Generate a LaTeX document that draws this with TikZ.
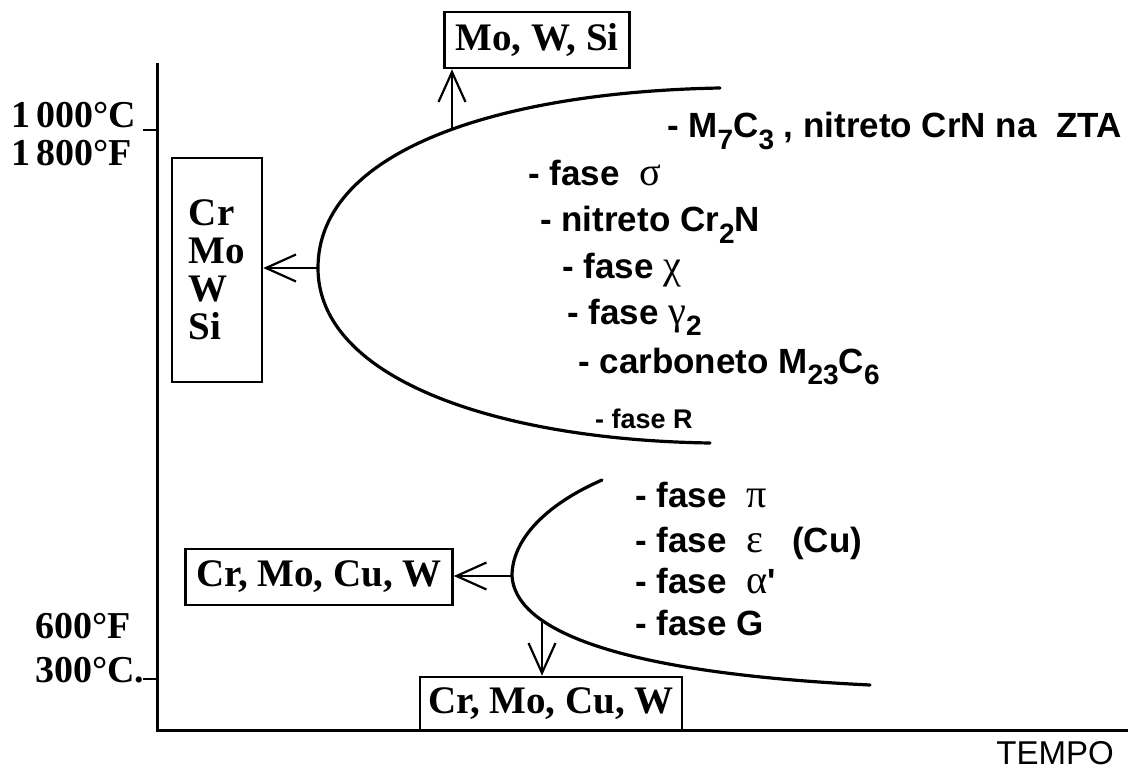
\documentclass[tikz,border=0pt]{standalone}
\usepackage{fontspec}
\usepackage{graphicx}
\setmainfont{Liberation Serif}
\setsansfont{Liberation Sans}
\newfontfamily\grk{Liberation Serif}
\usetikzlibrary{arrows.meta}
% lowered index used in the phase formulas
\newcommand\lowidx[1]{\raisebox{-0.33em}{\scalebox{0.8}{#1}}}
% Greek phase letter, slightly enlarged serif
\newcommand\gl[1]{{\grk\mdseries\scalebox{1.15}{#1}}}

\tikzset{
  axisline/.style={line width=3pt},
  tickline/.style={line width=2pt},
  curveline/.style={line width=3.2pt, line cap=round},
  flow/.style={line width=2.2pt, -{Straight Barb[length=30pt,width=27pt,line width=2.2pt]}},
  elembox/.style={draw, line width=2.6pt, inner sep=0pt,
    font=\fontsize{39}{38}\selectfont\bfseries},
  templabel/.style={font=\fontsize{38}{38}\selectfont\bfseries, inner sep=0pt},
  phase/.style={font=\fontsize{35}{35}\selectfont\sffamily\bfseries, inner sep=0pt, anchor=base west},
  smallphase/.style={phase, font=\fontsize{27}{27}\selectfont\sffamily\bfseries},
}

\begin{document}
\begin{tikzpicture}[x=1pt,y=-1pt]
\useasboundingbox (0,0) rectangle (1133,770);
\fill[white] (0,0) rectangle (1133,770);

% axes
\coordinate (ytop) at (157,63);
\coordinate (orig) at (157,730);
\coordinate (xend) at (1128,730);
\draw[axisline] (ytop) -- (orig) -- (xend);

% temperature ticks and labels
\coordinate (thi) at (157,130);
\coordinate (thiL) at (143,130);
\coordinate (tlo) at (157,679);
\coordinate (tloL) at (143,679);
\draw[tickline] (thiL) -- (thi);
\draw[tickline] (tloL) -- (tlo);
\node[templabel, anchor=base west] (c1000) at (11,128) {1\,000°C};
\node[templabel, anchor=base west] (f1800) at (11,166) {1\,800°F};
\node[templabel, anchor=base west] (f600) at (35,638) {600°F};
\node[templabel, anchor=base west] (c300) at (35,682) {300°C.};

\node[font=\fontsize{33}{33}\selectfont\sffamily, inner sep=0pt] (tempo) at (1055,753) {TEMPO};

% upper precipitation curve
\coordinate (uTop) at (720,88);
\coordinate (uTip) at (318,268);
\coordinate (uBot) at (710,443);
\coordinate (uUp) at (452,128);
\draw[curveline] (uTop) .. controls (500,92) and (318,150) .. (uTip)
                        .. controls (318,380) and (500,440) .. (uBot);

% lower precipitation curve
\coordinate (lTop) at (602,480);
\coordinate (lTip) at (512,576);
\coordinate (lEnd) at (870,685);
\coordinate (lDown) at (542,622);
\draw[curveline] (lTop) .. controls (545,505) and (512,540) .. (lTip)
                        .. controls (515,625) and (600,672) .. (lEnd);

% element boxes
\node[elembox, minimum width=90pt, minimum height=224pt, align=left] (bCr) at (217,270)
  {Cr\\Mo\\W\\Si};
\node[elembox, minimum width=185pt, minimum height=56pt] (bMo) at (537,40) {Mo, W, Si};
\node[elembox, minimum width=267pt, minimum height=56pt] (bLeft) at (319,577) {Cr, Mo, Cu, W};
\node[elembox, minimum width=262pt, minimum height=53pt] (bLow) at (551,703.5) {Cr, Mo, Cu, W};

% arrows from the curves to the boxes
\draw[flow] (uTip) -- (uTip -| bCr.east);
\draw[flow] (uUp) -- (uUp |- bMo.south);
\draw[flow] (lTip) -- (lTip -| bLeft.east);
\draw[flow] (lDown) -- (lDown |- bLow.north);

% phases of the upper curve
\node[phase] (p1) at (667,138) {- M\lowidx{7}C\lowidx{3} , nitreto CrN na\ \ ZTA};
\node[phase] (p2) at (528,186) {- fase\ \ \gl{σ}};
\node[phase] (p3) at (540,232) {- nitreto Cr\lowidx{2}N};
\node[phase] (p4) at (562,279) {- fase \gl{χ}};
\node[phase] (p5) at (567,324) {- fase \gl{γ}\lowidx{2}};
\node[phase] (p6) at (578,373) {- carboneto M\lowidx{23}C\lowidx{6}};
\node[smallphase] (p7) at (595,428) {- fase R};

% phases of the lower curve
\node[phase] (q1) at (635,507) {- fase\ \ \gl{π}};
\node[phase] (q2) at (635,552) {- fase\ \ \gl{ε}\ \ \ (Cu)};
\node[phase] (q3) at (635,593) {- fase\ \ \gl{α}\textquotesingle};
\node[phase] (q4) at (635,635) {- fase G};
\end{tikzpicture}
\end{document}
